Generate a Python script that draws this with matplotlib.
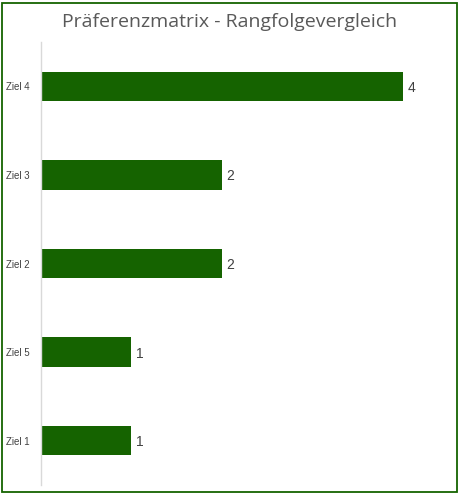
import matplotlib
matplotlib.use("Agg")
import matplotlib.pyplot as plt
from matplotlib.patches import Rectangle

categories = ["Ziel 1", "Ziel 5", "Ziel 2", "Ziel 3", "Ziel 4"]
values = [1, 1, 2, 2, 4]
title = "Präferenzmatrix - Rangfolgevergleich"

W, H = 460, 495
fig = plt.figure(figsize=(W / 100, H / 100), dpi=100)
fig.patch.set_facecolor("white")

ax = fig.add_axes([41 / W, 1 - 485 / H, (448 - 41) / W, (485 - 42) / H])
ypos = list(range(len(categories)))
ax.barh(ypos, values, height=0.33, color="#156300", zorder=2)
ax.set_xlim(0, 4.5)
ax.set_ylim(-0.5, len(categories) - 0.5)
ax.set_yticks(ypos)
ax.set_yticklabels(categories, fontsize=7, color="#404040", family="Liberation Sans")
ax.tick_params(axis="y", length=0, pad=8)
ax.set_xticks([])
for s in ["top", "right", "bottom"]:
    ax.spines[s].set_visible(False)
ax.spines["left"].set_color("#d9d9d9")
ax.spines["left"].set_linewidth(1)

for y, v in zip(ypos, values):
    ax.text(v + 0.05, y, str(v), va="center_baseline", ha="left", fontsize=10,
            color="#404040", family="Liberation Sans")

fig.text(0.5, 1 - 22 / H, title, ha="center", va="center", fontsize=14,
         color="#595959", family="Open Sans")

fig.patches.append(Rectangle((2.5 / W, 1 - 492 / H), (457 - 2.5) / W, (492 - 3) / H,
                             transform=fig.transFigure, fill=False,
                             edgecolor="#156300", linewidth=1.3))

fig.savefig("out.png", dpi=100)
